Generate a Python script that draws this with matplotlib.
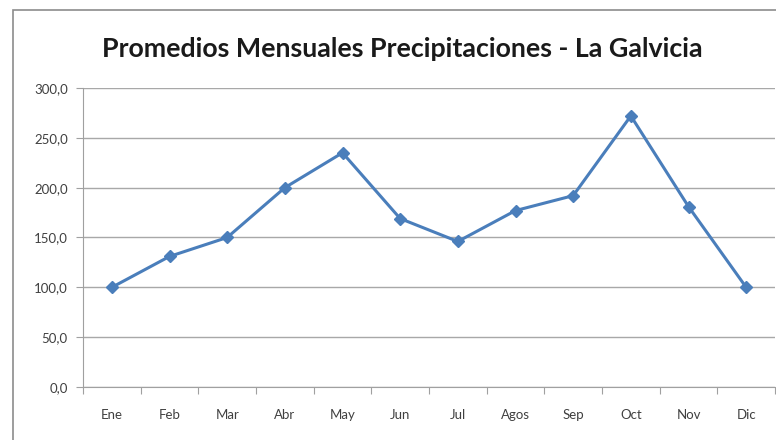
import matplotlib.pyplot as plt
from matplotlib.patches import Rectangle
from matplotlib.ticker import FuncFormatter, MultipleLocator

months = ['Ene', 'Feb', 'Mar', 'Abr', 'May', 'Jun', 'Jul', 'Agos', 'Sep', 'Oct', 'Nov', 'Dic']
precip = [100.0, 131.0, 150.0, 200.0, 235.0, 169.0, 146.0, 177.0, 192.0, 272.0, 181.0, 100.0]

plt.rcParams['font.family'] = ['Lato', 'DejaVu Sans']

fig = plt.figure(figsize=(7.76, 4.40), dpi=100)
fig.patches.append(Rectangle((13 / 776, -0.05), 1.2, 1 - 10 / 440 + 0.05,
                             transform=fig.transFigure, fill=False,
                             edgecolor='#8c8c8c', linewidth=1.2))

ax = fig.add_axes([83 / 776, 1 - 387 / 440, 692 / 776, 299 / 440])
x = list(range(len(months)))
ax.plot(x, precip, color='#4a7ebb', linewidth=2.2, marker='D', markersize=6.5)

ax.set_xlim(-0.5, len(months) - 0.5)
ax.set_ylim(0, 300)
ax.yaxis.set_major_locator(MultipleLocator(50))
ax.yaxis.set_major_formatter(FuncFormatter(lambda v, p: f'{v:.1f}'.replace('.', ',')))
ax.set_xticks([i - 0.5 for i in range(len(months) + 1)])
ax.set_xticklabels([])
ax.set_xticks(x, minor=True)
ax.set_xticklabels(months, minor=True)
ax.tick_params(axis='x', which='minor', length=0, pad=16, labelsize=9.5, colors='#404040')
ax.tick_params(axis='x', which='major', length=5, color='#a0a0a0')
ax.tick_params(axis='y', length=5, color='#a0a0a0', labelsize=9.5, labelcolor='#404040', pad=6)
ax.grid(axis='y', color='#a8a8a8', linewidth=1)
ax.set_axisbelow(True)
for side in ['top', 'right']:
    ax.spines[side].set_visible(False)
ax.spines['left'].set_color('#a0a0a0')
ax.spines['bottom'].set_color('#a0a0a0')

fig.text(0.518, 0.888, 'Promedios Mensuales Precipitaciones - La Galvicia',
         ha='center', va='center', fontsize=19.3, fontweight='bold', color='#1a1a1a')

fig.savefig('out.png', dpi=100)
